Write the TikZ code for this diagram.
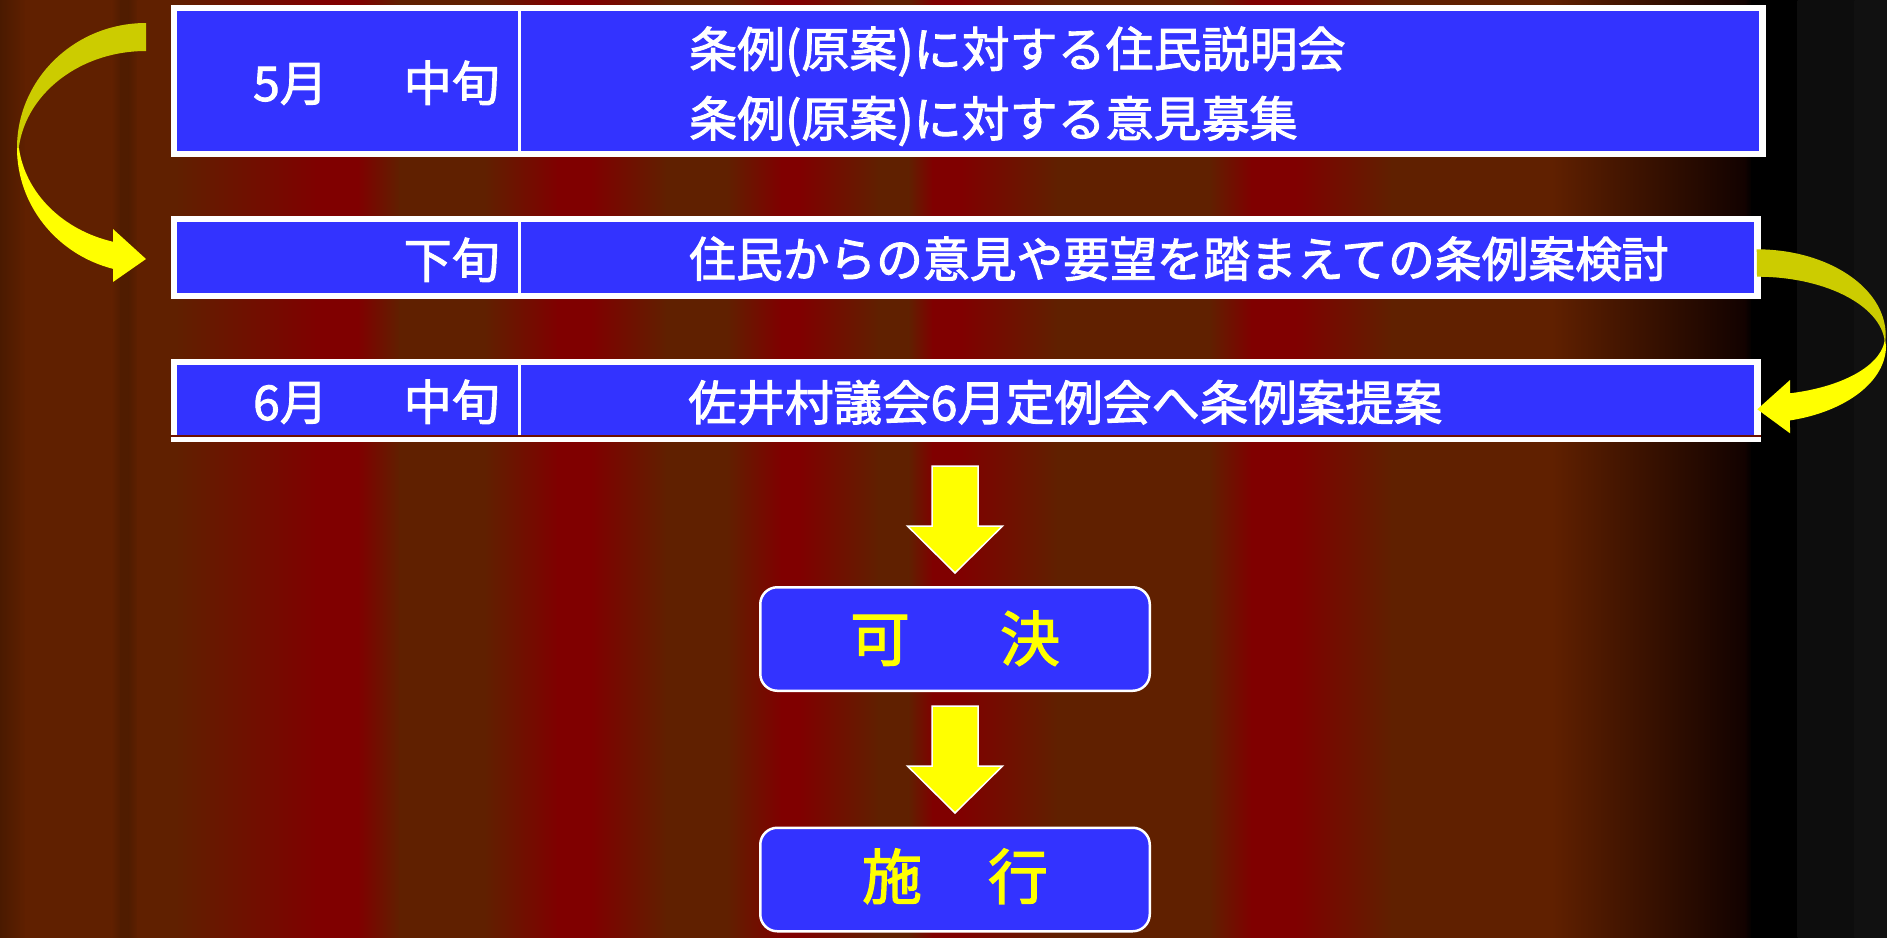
\documentclass[tikz,border=0pt]{standalone}
\usepackage{fontspec}
\setmainfont{Noto Sans CJK JP}[FakeBold=2]
\definecolor{bgdark}{RGB}{74,26,0}
\definecolor{bgbrown}{RGB}{96,32,0}
\definecolor{bgbrowndk}{RGB}{80,28,0}
\definecolor{bgred}{RGB}{128,0,0}
\definecolor{bgnearblack}{RGB}{18,2,0}
\definecolor{bgblack}{RGB}{0,0,0}
\definecolor{bggray}{RGB}{13,13,13}
\definecolor{bggraylt}{RGB}{17,17,17}
\definecolor{cellblue}{RGB}{51,51,255}
\definecolor{arrowyellow}{RGB}{255,255,0}
\definecolor{arrowdark}{RGB}{204,204,0}
\definecolor{sepline}{RGB}{110,16,0}
\tikzset{
  cell/.style={fill=cellblue, inner sep=0pt, outer sep=0pt, anchor=north west},
  frame/.style={fill=white},
  celltext/.style={text=white, inner sep=0pt, font=\fontsize{48}{58}\selectfont},
  bigtext/.style={text=arrowyellow, inner sep=0pt, font=\fontsize{60}{72}\selectfont},
  roundbox/.style={fill=cellblue, draw=white, line width=2.5pt, rounded corners=17pt,
    minimum width=389.5pt, minimum height=103.5pt, inner sep=0pt},
  blockarrow/.style={fill=arrowyellow, draw=white, line width=1.5pt, line join=miter},
  ribbonback/.style={fill=arrowdark},
  ribbonfront/.style={fill=arrowyellow}
}
\begin{document}
\begin{tikzpicture}[x=1pt,y=-1pt]
\useasboundingbox (0,0) rectangle (1887,937);
% background stripes
\foreach \xa/\ca/\xb/\cb in {
0/bgdark/26/bgbrown,
26/bgbrown/112/bgbrown,
112/bgbrown/121/bgbrowndk,
121/bgbrowndk/129/bgbrowndk,
129/bgbrowndk/138/bgbrown,
138/bgbrown/176/bgbrown,
176/bgbrown/321/bgred,
321/bgred/358/bgred,
358/bgred/400/bgbrown,
400/bgbrown/485/bgbrown,
485/bgbrown/558/bgred,
558/bgred/591/bgred,
591/bgred/667/bgbrown,
667/bgbrown/727/bgbrown,
727/bgbrown/782/bgred,
782/bgred/800/bgred,
800/bgred/879/bgbrown,
879/bgbrown/909/bgbrown,
909/bgbrown/933/bgred,
933/bgred/961/bgred,
961/bgred/1058/bgbrown,
1058/bgbrown/1210/bgbrown,
1210/bgbrown/1252/bgred,
1252/bgred/1295/bgred,
1295/bgred/1392/bgbrown,
1392/bgbrown/1552/bgbrown,
1552/bgbrown/1745/bgnearblack,
1745/bgnearblack/1752/bgblack,
1752/bgblack/1798/bgblack,
1798/bggray/1855/bggray,
1855/bggraylt/1887/bggraylt}
{\shade[left color=\ca, right color=\cb] (\xa-0.5,-1) rectangle (\xb+0.5,938);}

% row 1
\fill[frame] (171,5) rectangle (1766,157);
\node[cell, minimum width=341pt, minimum height=140pt] (c1l) at (177,11) {};
\node[cell, minimum width=1237.5pt, minimum height=140pt] (c1r) at (521,11) {};
% row 2
\fill[frame] (171,216) rectangle (1761,299);
\node[cell, minimum width=341pt, minimum height=71pt] (c2l) at (177,222) {};
\node[cell, minimum width=1233pt, minimum height=71pt] (c2r) at (521,222) {};
% row 3
\fill[frame] (171,359) rectangle (1761,442);
\node[cell, minimum width=341pt, minimum height=70pt] (c3l) at (177,365) {};
\node[cell, minimum width=1233pt, minimum height=70pt] (c3r) at (521,365) {};
\fill[sepline] (171,435.4) rectangle (1761,436.8);

% texts in table
\node[celltext, anchor=base east] (t1l) at (500,101) {5月\hspace{76pt}中旬};
\node[celltext, anchor=base west] (t1a) at (689,67) {条例(原案)に対する住民説明会};
\node[celltext, anchor=base west] (t1b) at (689,136.5) {条例(原案)に対する意見募集};
\node[celltext, anchor=base east] (t2l) at (500,278) {下旬};
\node[celltext, anchor=base west] (t2r) at (689,277) {\scalebox{0.974}[1]{住民からの意見や要望を踏まえての条例案検討}};
\node[celltext, anchor=base east] (t3l) at (500,420) {6月\hspace{76pt}中旬};
\node[celltext, anchor=base west] (t3r) at (688,420.5) {\scalebox{1.01}[1]{佐井村議会6月定例会へ条例案提案}};

% result boxes
\node[roundbox] (b1) at (955,639) {};
\node[roundbox] (b2) at (955,879.5) {};
\node[bigtext, anchor=base] (b1t) at (955,661) {可\hspace{90pt}決};
\node[bigtext, anchor=base] (b2t) at (955,899) {施\hspace{66pt}行};

% block arrows
\draw[blockarrow] (932,466) -- (978,466) -- (978,526) -- (1002.5,526) -- (955,573) -- (907.5,526) -- (932,526) -- cycle;
\draw[blockarrow] (932,706) -- (978,706) -- (978,766) -- (1002.5,766) -- (955,813) -- (907.5,766) -- (932,766) -- cycle;

% left curved arrow
\fill[ribbonback] (146,23) arc[start angle=270, end angle=180, x radius=129, y radius=125]
  -- (18,160) arc[start angle=180, end angle=270, x radius=128, y radius=109] -- cycle;
\fill[ribbonfront] (17,148) arc[start angle=180, end angle=104.8, x radius=129, y radius=125]
  -- (113,282) -- (146,259) -- (113,229) -- (113,241.75)
  arc[start angle=104.94, end angle=173, x radius=128, y radius=111] -- cycle;

% right curved arrow
\fill[ribbonback] (1756.7,249.3) arc[start angle=270, end angle=360, x radius=129, y radius=86]
  -- (1885,345.7) arc[start angle=0, end angle=-90, x radius=128, y radius=69] -- cycle;
\fill[ribbonfront] (1884.5,336) -- (1886,346) arc[start angle=0, end angle=75.2, x radius=129, y radius=77]
  -- (1790,433.3) -- (1757.3,409.3) -- (1790,380) -- (1790,393.3)
  arc[start angle=75.06, end angle=0, x radius=128, y radius=59] -- cycle;
\end{tikzpicture}
\end{document}
